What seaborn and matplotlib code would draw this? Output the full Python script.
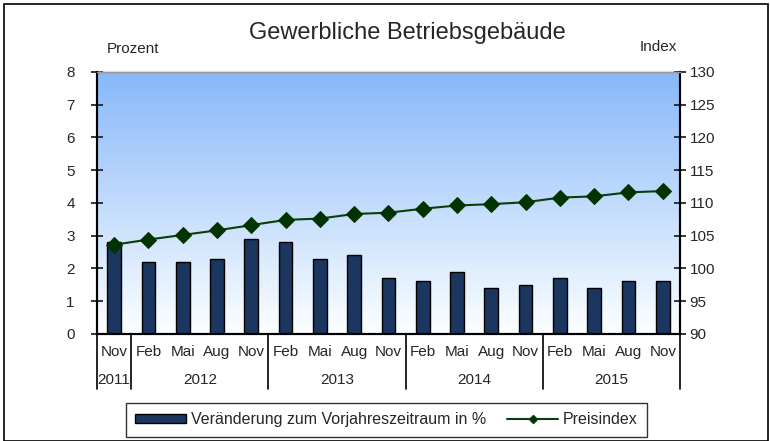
import numpy as np
import pandas as pd
import matplotlib
matplotlib.use("Agg")
import matplotlib.pyplot as plt
import seaborn as sns
from matplotlib.patches import Rectangle
from matplotlib.lines import Line2D
from matplotlib.patches import Patch

# data
months = ["Nov", "Feb", "Mai", "Aug", "Nov", "Feb", "Mai", "Aug", "Nov",
          "Feb", "Mai", "Aug", "Nov", "Feb", "Mai", "Aug", "Nov"]
years = ["2011", "2012", "2013", "2014", "2015"]
year_counts = [1, 4, 4, 4, 4]
veraenderung = [2.8, 2.2, 2.2, 2.3, 2.9, 2.8, 2.3, 2.4, 1.7,
                1.6, 1.9, 1.4, 1.5, 1.7, 1.4, 1.6, 1.6]
preisindex = [103.6, 104.4, 105.1, 105.8, 106.6, 107.4, 107.6, 108.3, 108.5,
              109.1, 109.6, 109.8, 110.1, 110.8, 111.0, 111.6, 111.8]

sns.set_style("white")
plt.rcParams["font.family"] = ["Liberation Sans", "DejaVu Sans"]

df = pd.DataFrame({
    "pos": np.arange(len(months)),
    "label": [f"{m}{i}" for i, m in enumerate(months)],
    "pct": veraenderung,
    "idx": preisindex,
})

fig = plt.figure(figsize=(7.7, 4.41), dpi=100)
ax = fig.add_axes([0.126, 0.243, 0.757, 0.594])

# gradient background
grad = np.linspace(0, 1, 256).reshape(-1, 1)
top = np.array([0.53, 0.72, 0.98])
bot = np.array([0.99, 1.0, 1.0])
img = bot + (top - bot) * grad[..., None]
ax.imshow(img, extent=[-0.5, len(months) - 0.5, 0, 8], origin="lower",
          aspect="auto", zorder=0)

sns.barplot(data=df, x="label", y="pct", color="#1b365f", width=0.4,
            edgecolor="black", linewidth=1, saturation=1, ax=ax, zorder=2)
ax.set_xlim(-0.5, len(months) - 0.5)
ax.set_ylim(0, 8)
ax.set_yticks(range(0, 9))
ax.set_xticks(df["pos"])
ax.set_xticklabels(months)
ax.set_xlabel("")
ax.set_ylabel("")
ax.tick_params(axis="x", length=0, pad=8, labelsize=11)
ax.tick_params(axis="y", direction="inout", length=8, width=1.3, labelsize=11,
               left=True, pad=12)

ax2 = ax.twinx()
sns.lineplot(data=df, x="pos", y="idx", color="#0a3d0a", linewidth=1.5,
             marker="D", markersize=8, markerfacecolor="#003300",
             markeredgecolor="#003300", ax=ax2, zorder=3)
ax2.set_ylim(90, 130)
ax2.set_yticks(range(90, 131, 5))
ax2.set_xlim(-0.5, len(months) - 0.5)
ax2.set_ylabel("")
ax2.set_xlabel("")
ax2.tick_params(axis="y", direction="inout", length=8, width=1.3, labelsize=11,
                right=True, pad=3)

for a in (ax, ax2):
    for s in ["left", "right", "bottom"]:
        a.spines[s].set_color("black")
        a.spines[s].set_linewidth(1.5)
    a.spines["top"].set_color("#999999")
    a.spines["top"].set_linewidth(1)

# year row and separators
bounds = np.concatenate([[0], np.cumsum(year_counts)]) - 0.5
trans = ax.get_xaxis_transform()
for b in bounds:
    ax.plot([b, b], [0, -0.21], color="black", lw=1.2, transform=trans,
            clip_on=False)
for y, a0, a1 in zip(years, bounds[:-1], bounds[1:]):
    ax.text((a0 + a1) / 2, -0.175, y, transform=trans, ha="center",
            va="center", fontsize=11)

fig.text(0.529, 0.925, "Gewerbliche Betriebsgebäude", ha="center",
         va="center", fontsize=17)
fig.text(0.173, 0.89, "Prozent", ha="center", va="center", fontsize=11)
fig.text(0.855, 0.893, "Index", ha="center", va="center", fontsize=11)

handles = [Patch(facecolor="#1b365f", edgecolor="black"),
           Line2D([], [], color="#0a3d0a", marker="D", markersize=4,
                  markerfacecolor="#003300")]
leg = fig.legend(handles, ["Veränderung zum Vorjahreszeitraum in %", "Preisindex"],
                 loc="center", bbox_to_anchor=(0.502, 0.048), ncol=2,
                 frameon=True, fancybox=False, fontsize=11.5, handlelength=3.2,
                 handleheight=0.5, handletextpad=0.3,
                 columnspacing=1.3, borderpad=0.6)
leg.get_frame().set_edgecolor("black")
leg.get_frame().set_linewidth(1)

fig.patches.append(Rectangle((0.005, 0.0), 0.993, 0.99, transform=fig.transFigure,
                             fill=False, edgecolor="black", linewidth=1.2))

fig.savefig("out.png", dpi=100)
